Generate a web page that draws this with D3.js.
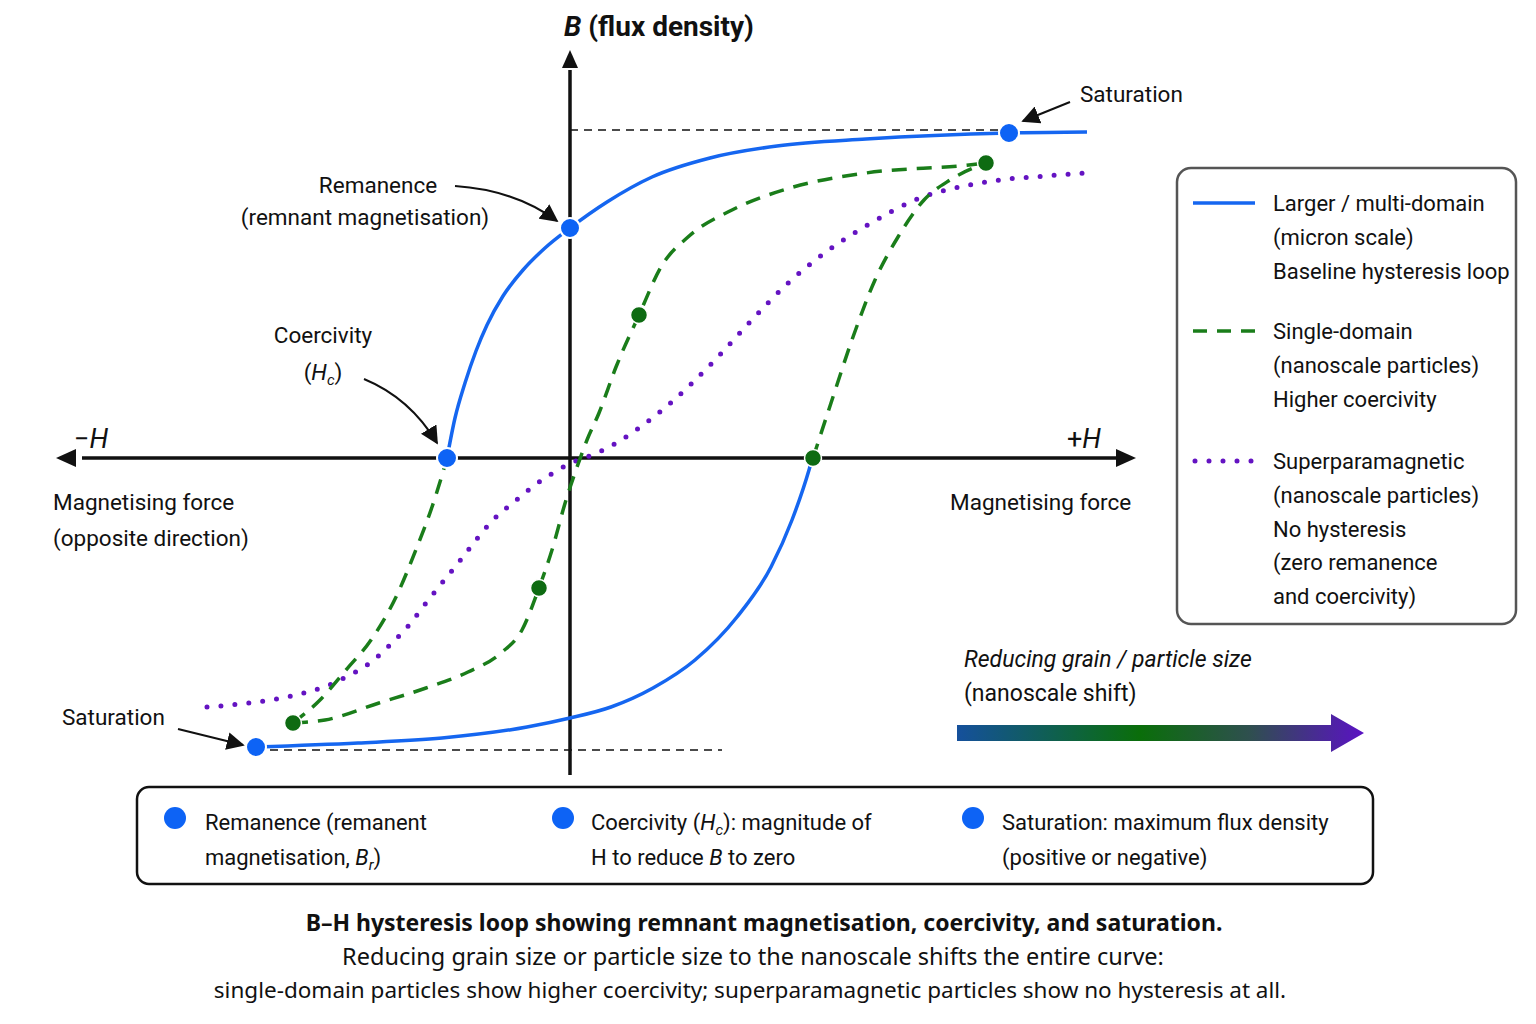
<!DOCTYPE html>
<html>
<head>
<meta charset="utf-8">
<script src="https://cdn.jsdelivr.net/npm/d3@7"></script>
<style>
  body { margin: 0; background: #fff; }
  svg text { font-family: Roboto, "Liberation Sans", sans-serif; fill: #111; }
  .cap { font-family: "Noto Sans", "Open Sans", sans-serif; }
</style>
</head>
<body>
<svg id="chart" width="1536" height="1024"></svg>
<script>
// ---- data (H, B in arbitrary units) ----
var blueUpperH = [-1.23, -1.15, -1.05, -0.94, -0.83, -0.67, -0.47, -0.25, 0, 0.37, 0.82, 1.40, 2.07, 2.96, 4.39, 5.17];
var blueUpperB = [0, 0.40, 0.75, 1.07, 1.33, 1.62, 1.88, 2.10, 2.30, 2.56, 2.81, 3.00, 3.12, 3.19, 3.25, 3.26];
var blueLowerH = [-3.14, -2.12, -1.28, -0.43, 0, 0.41, 0.83, 1.25, 1.67, 2.01, 2.22, 2.39, 2.41];
var blueLowerB = [-2.89, -2.85, -2.80, -2.69, -2.60, -2.49, -2.30, -2.02, -1.59, -1.09, -0.62, -0.12, -0.05];

var greenMainH = [-2.77, -2.45, -1.91, -1.44, -1.02, -0.69, -0.48, -0.31, -0.18, -0.04, 0.06, 0.17, 0.29, 0.46, 0.69, 0.91, 1.18, 1.62, 2.20, 2.96, 3.99, 4.16];
var greenMainB = [-2.65, -2.62, -2.45, -2.30, -2.14, -1.95, -1.72, -1.30, -0.92, -0.42, -0.12, 0.18, 0.45, 0.91, 1.43, 1.91, 2.21, 2.48, 2.70, 2.85, 2.93, 2.95];
var greenRightH = [2.43, 2.61, 2.83, 3.05, 3.28, 3.54, 3.80, 4.16];
var greenRightB = [0, 0.55, 1.21, 1.78, 2.21, 2.58, 2.78, 2.95];
var greenLeftH = [-2.77, -2.50, -2.24, -1.99, -1.74, -1.53, -1.38, -1.27, -1.23];
var greenLeftB = [-2.65, -2.42, -2.12, -1.82, -1.39, -0.89, -0.49, -0.14, 0];

var purpleH = [-3.63, -3.21, -2.79, -2.41, -2.20, -1.99, -1.78, -1.61, -1.44, -1.28, -1.11, -0.94, -0.77, -0.56, -0.35, -0.12, 0.01, 0.14, 0.29, 0.51, 0.73, 0.96, 1.18, 1.45, 1.80, 2.16, 2.56, 3.01, 3.45, 3.99, 4.30, 4.75, 5.15];
var purpleB = [-2.49, -2.45, -2.38, -2.27, -2.17, -2.04, -1.85, -1.67, -1.45, -1.25, -1.04, -0.82, -0.62, -0.44, -0.27, -0.12, -0.05, 0, 0.06, 0.18, 0.33, 0.51, 0.71, 0.98, 1.36, 1.73, 2.06, 2.35, 2.58, 2.73, 2.78, 2.82, 2.85];

var blueDotsH = [0, -1.23, 4.39, -3.14];
var blueDotsB = [2.30, 0, 3.25, -2.89];
var greenDotsH = [-2.77, -0.31, 0.69, 4.16, 2.43];
var greenDotsB = [-2.65, -1.30, 1.43, 2.95, 0];

var satLineB = [3.28, -2.92];
var satLineFromH = [0, -3.0];
var satLineToH = [4.30, 1.52];

var legendLabels = [
  ["Larger / multi-domain", "(micron scale)", "Baseline hysteresis loop"],
  ["Single-domain", "(nanoscale particles)", "Higher coercivity"],
  ["Superparamagnetic", "(nanoscale particles)", "No hysteresis", "(zero remanence", "and coercivity)"]
];

var colors = { blue: "#1566f0", blueDot: "#0d63f5", green: "#1a7d1a", greenDot: "#0e6b12", purple: "#6413c2" };

// ---- scales ----
var x = d3.scaleLinear().domain([-5, 5]).range([70, 1070]);
var y = d3.scaleLinear().domain([-3, 4]).range([758, 58]);

var svg = d3.select("#chart");
var defs = svg.append("defs");

defs.append("marker")
    .attr("id", "ah")
    .attr("viewBox", "0 0 10 10")
    .attr("refX", 9).attr("refY", 5)
    .attr("markerWidth", 18).attr("markerHeight", 18)
    .attr("markerUnits", "userSpaceOnUse")
    .attr("orient", "auto")
  .append("path")
    .attr("d", "M0,0 L10,5 L0,10 z")
    .attr("fill", "#111");

var grad = defs.append("linearGradient").attr("id", "shift");
grad.append("stop").attr("offset", "0%").attr("stop-color", "#15509c");
grad.append("stop").attr("offset", "45%").attr("stop-color", "#0a6e0a");
grad.append("stop").attr("offset", "72%").attr("stop-color", "#2f4f4f");
grad.append("stop").attr("offset", "100%").attr("stop-color", "#5a12c4");

function zip(hs, bs) { return hs.map(function(h, i) { return [h, bs[i]]; }); }

var line = d3.line()
    .x(function(d) { return x(d[0]); })
    .y(function(d) { return y(d[1]); })
    .curve(d3.curveMonotoneX);

// ---- saturation reference lines ----
satLineB.forEach(function(b, i) {
  svg.append("line")
    .attr("x1", x(satLineFromH[i])).attr("x2", x(satLineToH[i]))
    .attr("y1", y(b)).attr("y2", y(b))
    .attr("stroke", "#111").attr("stroke-width", 1.6)
    .attr("stroke-dasharray", "8 6");
});

// ---- axes ----
var axisW = 3.5;
svg.append("line")
    .attr("x1", x(-4.88)).attr("x2", x(5.46))
    .attr("y1", y(0)).attr("y2", y(0))
    .attr("stroke", "#111").attr("stroke-width", axisW);
svg.append("path")
    .attr("d", "M" + x(-5.14) + "," + y(0) + " l20,-9 l0,18 z").attr("fill", "#111");
svg.append("path")
    .attr("d", "M" + x(5.66) + "," + y(0) + " l-20,-9 l0,18 z").attr("fill", "#111");
svg.append("line")
    .attr("x1", x(0)).attr("x2", x(0))
    .attr("y1", y(-3.17)).attr("y2", y(3.88))
    .attr("stroke", "#111").attr("stroke-width", axisW);
svg.append("path")
    .attr("d", "M" + x(0) + "," + y(4.08) + " l-8,18 l16,0 z").attr("fill", "#111");

// ---- curves ----
svg.append("path").datum(zip(purpleH, purpleB))
    .attr("d", line).attr("fill", "none")
    .attr("stroke", colors.purple).attr("stroke-width", 5)
    .attr("stroke-linecap", "round").attr("stroke-dasharray", "0 14");

[zip(greenMainH, greenMainB), zip(greenRightH, greenRightB), zip(greenLeftH, greenLeftB)].forEach(function(seg) {
  svg.append("path").datum(seg)
    .attr("d", line).attr("fill", "none")
    .attr("stroke", colors.green).attr("stroke-width", 3.5)
    .attr("stroke-dasharray", "15 10");
});

[zip(blueUpperH, blueUpperB), zip(blueLowerH, blueLowerB)].forEach(function(seg) {
  svg.append("path").datum(seg)
    .attr("d", line).attr("fill", "none")
    .attr("stroke", colors.blue).attr("stroke-width", 3.5);
});

svg.selectAll(".gdot").data(zip(greenDotsH, greenDotsB)).enter().append("circle")
    .attr("cx", function(d) { return x(d[0]); })
    .attr("cy", function(d) { return y(d[1]); })
    .attr("r", 8.5).attr("fill", colors.greenDot)
    .attr("stroke", "#fff").attr("stroke-width", 1.5);

svg.selectAll(".bdot").data(zip(blueDotsH, blueDotsB)).enter().append("circle")
    .attr("cx", function(d) { return x(d[0]); })
    .attr("cy", function(d) { return y(d[1]); })
    .attr("r", 10).attr("fill", colors.blueDot)
    .attr("stroke", "#fff").attr("stroke-width", 2);

// ---- axis labels ----
var yl = svg.append("text").attr("x", 564).attr("y", 36)
    .attr("font-size", 28).attr("font-weight", "bold");
yl.append("tspan").attr("font-style", "italic").text("B");
yl.append("tspan").text(" (flux density)");

var mh = svg.append("text").attr("x", 74).attr("y", 448).attr("font-size", 27);
mh.append("tspan").text("\u2212");
mh.append("tspan").attr("font-style", "italic").text("H");
var ph = svg.append("text").attr("x", 1067).attr("y", 448).attr("font-size", 27);
ph.append("tspan").text("+");
ph.append("tspan").attr("font-style", "italic").text("H");

function label(tx, ty, s, anchor) {
  return svg.append("text").attr("x", tx).attr("y", ty)
    .attr("font-size", 22.5).attr("text-anchor", anchor || "start").text(s);
}
label(53, 510, "Magnetising force");
label(53, 546, "(opposite direction)");
label(950, 510, "Magnetising force");

// annotations
label(378, 193, "Remanence", "middle");
label(365, 225, "(remnant magnetisation)", "middle");
label(323, 343, "Coercivity", "middle");
var hc = svg.append("text").attr("x", 323).attr("y", 380).attr("font-size", 22.5).attr("text-anchor", "middle");
hc.append("tspan").text("(");
hc.append("tspan").attr("font-style", "italic").text("H");
hc.append("tspan").attr("font-size", 15).attr("dy", 5).attr("font-style", "italic").text("c");
hc.append("tspan").attr("dy", -5).text(")");
label(62, 725, "Saturation");
label(1080, 102, "Saturation");

function arrow(d) {
  svg.append("path").attr("d", d).attr("fill", "none")
    .attr("stroke", "#111").attr("stroke-width", 2)
    .attr("marker-end", "url(#ah)");
}
arrow("M455,186 Q515,190 557,221");
arrow("M364,379 Q410,398 437,443");
arrow("M178,729 L243,745");
arrow("M1070,102 L1023,121");

// ---- legend box ----
svg.append("rect").attr("x", 1177).attr("y", 168).attr("width", 339).attr("height", 456)
    .attr("rx", 14).attr("fill", "#fff").attr("stroke", "#555").attr("stroke-width", 2.5);

var legStyles = [
  { c: colors.blue, w: 3.5, dash: null, cap: "butt" },
  { c: colors.green, w: 3.5, dash: "14 10", cap: "butt" },
  { c: colors.purple, w: 5, dash: "0 14", cap: "round" }
];
var legTop = [203, 331, 461];
legendLabels.forEach(function(lines, i) {
  var st = legStyles[i];
  svg.append("line").attr("x1", st.cap === "round" ? 1195 : 1193).attr("x2", 1255)
    .attr("y1", legTop[i]).attr("y2", legTop[i])
    .attr("stroke", st.c).attr("stroke-width", st.w)
    .attr("stroke-linecap", st.cap).attr("stroke-dasharray", st.dash);
  lines.forEach(function(s, j) {
    svg.append("text").attr("x", 1273).attr("y", legTop[i] + 8 + j * 33.8)
      .attr("font-size", 22).text(s);
  });
});

// ---- nanoscale shift arrow ----
svg.append("text").attr("x", 964).attr("y", 667).attr("font-size", 23)
    .attr("font-style", "italic").text("Reducing grain / particle size");
svg.append("text").attr("x", 964).attr("y", 701).attr("font-size", 23)
    .text("(nanoscale shift)");
svg.append("path")
    .attr("d", "M957,725 L1331,725 L1331,714 L1364,733 L1331,752 L1331,741 L957,741 Z")
    .attr("fill", "url(#shift)");

// ---- bottom key box ----
svg.append("rect").attr("x", 137).attr("y", 787).attr("width", 1236).attr("height", 97)
    .attr("rx", 12).attr("fill", "#fff").attr("stroke", "#111").attr("stroke-width", 2.5);
var keyX = [175, 563, 973];
keyX.forEach(function(kx) {
  svg.append("circle").attr("cx", kx).attr("cy", 818).attr("r", 11).attr("fill", colors.blueDot);
});
svg.append("text").attr("x", 205).attr("y", 830).attr("font-size", 22).text("Remanence (remanent");
var k1b = svg.append("text").attr("x", 205).attr("y", 865).attr("font-size", 22);
k1b.append("tspan").text("magnetisation, ");
k1b.append("tspan").attr("font-style", "italic").text("B");
k1b.append("tspan").attr("font-style", "italic").attr("font-size", 15).attr("dy", 5).text("r");
k1b.append("tspan").attr("dy", -5).text(")");
var k2 = svg.append("text").attr("x", 591).attr("y", 830).attr("font-size", 22);
k2.append("tspan").text("Coercivity (");
k2.append("tspan").attr("font-style", "italic").text("H");
k2.append("tspan").attr("font-style", "italic").attr("font-size", 15).attr("dy", 5).text("c");
k2.append("tspan").attr("dy", -5).text("): magnitude of");
var k2b = svg.append("text").attr("x", 591).attr("y", 865).attr("font-size", 22);
k2b.append("tspan").text("H to reduce ");
k2b.append("tspan").attr("font-style", "italic").text("B");
k2b.append("tspan").text(" to zero");
svg.append("text").attr("x", 1002).attr("y", 830).attr("font-size", 22).text("Saturation: maximum flux density");
svg.append("text").attr("x", 1002).attr("y", 865).attr("font-size", 22).text("(positive or negative)");

// ---- caption ----
svg.append("text").attr("class", "cap").attr("x", 764).attr("y", 931)
    .attr("text-anchor", "middle").attr("font-size", 23).attr("font-weight", "bold")
    .text("B\u2013H hysteresis loop showing remnant magnetisation, coercivity, and saturation.");
svg.append("text").attr("class", "cap").attr("x", 753).attr("y", 965)
    .attr("text-anchor", "middle").attr("font-size", 23.5)
    .text("Reducing grain size or particle size to the nanoscale shifts the entire curve:");
svg.append("text").attr("class", "cap").attr("x", 750).attr("y", 998)
    .attr("text-anchor", "middle").attr("font-size", 22.5)
    .text("single-domain particles show higher coercivity; superparamagnetic particles show no hysteresis at all.");
</script>
</body>
</html>
